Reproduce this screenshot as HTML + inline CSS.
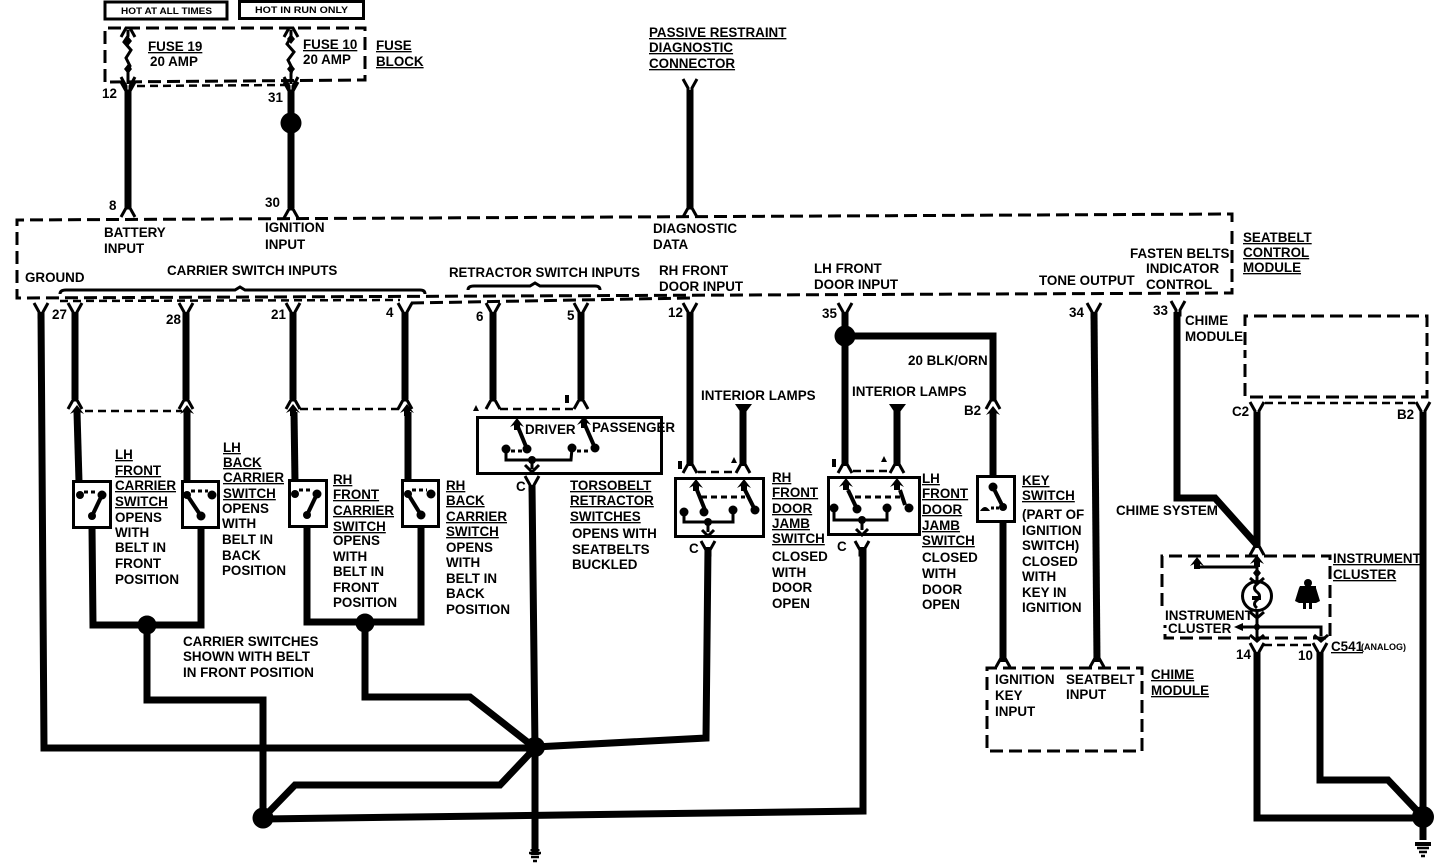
<!DOCTYPE html>
<html><head><meta charset="utf-8"><style>
html,body{margin:0;padding:0;background:#fff}
svg{display:block}
text{font-family:"Liberation Sans",sans-serif;font-weight:bold;font-size:13.4px;fill:#000}
.u{text-decoration:underline}
.s{font-size:9px}
.w{fill:none;stroke:#000;stroke-width:7}
.n{fill:none;stroke:#000;stroke-width:3}
.l{fill:none;stroke:#000;stroke-width:4}
.d{fill:none;stroke:#000;stroke-width:3;stroke-dasharray:13 6}
.e{fill:none;stroke:#000;stroke-width:2.5;stroke-dasharray:8 5}
</style></head><body>
<svg width="1456" height="864" viewBox="0 0 1456 864" xmlns="http://www.w3.org/2000/svg">
<defs>
<path id="y" d="M-7,-8 L-2,1 L-2,6 L2,6 L2,1 L7,-8" fill="none" stroke="#000" stroke-width="3"/>
<path id="a" d="M-7,7 L-2,-2 L2,-2 L7,7" fill="none" stroke="#000" stroke-width="3"/>
<path id="h" d="M-7,4 L0,-5 L7,4 L3,2 L3,7 L-3,7 L-3,2 Z" fill="#000"/>
<g id="g"><path d="M-6,0H6M-4,4H4M-2,8H2" stroke="#000" stroke-width="2.5" fill="none"/></g>
</defs>

<!-- top labels -->
<rect x="105" y="2" width="122" height="17" class="n"/>
<rect x="239.500" y="1.500" width="124" height="17" class="n"/>
<text x="121" y="14" class="s" textLength="91" lengthAdjust="spacingAndGlyphs">HOT AT ALL TIMES</text>
<text x="255" y="13" class="s" textLength="93" lengthAdjust="spacingAndGlyphs">HOT IN RUN ONLY</text>

<!-- fuse block -->
<path class="d" d="M105,82 V28 H365 V80 L105,82"/>
<path class="e" d="M137,86 L285,85"/>
<path d="M128,30 V36 L124,42 L131,50 L126,58 L130,66 L128,72 V84" class="n"/>
<path d="M291,30 V37 L287,44 L294,52 L288,60 L292,68 L291,74 V84" class="n"/>
<path d="M128,36l-4,5 4,5 4,-5zM128,64l-4,5 4,5 4,-5zM291,34l-4,5 4,5 4,-5zM291,64l-4,5 4,5 4,-5z"/>
<use href="#a" x="128" y="30"/><use href="#a" x="291" y="30"/>
<use href="#y" x="128" y="85"/><use href="#y" x="291" y="85"/>
<use href="#y" x="128" y="90"/><use href="#y" x="291" y="90"/>
<path class="w" d="M128,90 V209"/>
<path class="w" d="M291,90 V208"/>
<circle cx="291" cy="123" r="10.500"/>
<text x="148" y="51" class="u">FUSE 19</text><text x="150" y="66">20 AMP</text>
<text x="303" y="49" class="u">FUSE 10</text><text x="303" y="64">20 AMP</text>
<text x="376" y="50" class="u">FUSE</text><text x="376" y="66" class="u">BLOCK</text>
<text x="102" y="98">12</text><text x="268" y="102">31</text>

<text x="649" y="37" class="u">PASSIVE RESTRAINT</text>
<text x="649" y="52" class="u">DIAGNOSTIC</text>
<text x="649" y="68" class="u">CONNECTOR</text>
<use href="#y" x="690" y="87"/>
<path class="w" d="M690,90 V209"/>

<!-- seatbelt module -->
<path class="d" d="M1232,222 L1232,214 L17,220 V298 L1232,293 V230"/>
<use href="#a" x="128" y="210"/><use href="#a" x="291" y="211"/><use href="#a" x="690" y="210"/>
<text x="109" y="210" font-size="12">8</text><text x="265" y="207">30</text>
<text x="104" y="237">BATTERY</text><text x="104" y="253">INPUT</text>
<text x="265" y="232">IGNITION</text><text x="265" y="249">INPUT</text>
<text x="653" y="233">DIAGNOSTIC</text><text x="653" y="249">DATA</text>
<text x="1243" y="242" class="u">SEATBELT</text><text x="1243" y="257" class="u">CONTROL</text><text x="1243" y="272" class="u">MODULE</text>
<text x="1130" y="258">FASTEN BELTS</text><text x="1146" y="273">INDICATOR</text><text x="1146" y="289">CONTROL</text>
<text x="25" y="282" font-size="13">GROUND</text>
<text x="167" y="275">CARRIER SWITCH INPUTS</text>
<text x="449" y="277" textLength="191" lengthAdjust="spacingAndGlyphs">RETRACTOR SWITCH INPUTS</text>
<text x="659" y="275">RH FRONT</text><text x="659" y="291">DOOR INPUT</text>
<text x="814" y="273">LH FRONT</text><text x="814" y="289">DOOR INPUT</text>
<text x="1039" y="285">TONE OUTPUT</text>
<path d="M60,294 Q60,290 66,290 H235 L240,287 L245,290 H420 Q425,290 425,294" class="n"/>
<path d="M468,290 Q468,286 474,286 H530 L535,283 L540,286 H595 Q600,286 600,290" class="n"/>

<!-- pins -->
<g>
<use href="#y" x="41" y="311"/><use href="#y" x="75" y="311"/><use href="#y" x="186" y="311"/><use href="#y" x="293" y="311"/><use href="#y" x="405" y="311"/><use href="#y" x="493" y="311"/><use href="#y" x="581" y="311"/><use href="#y" x="690" y="311"/><use href="#y" x="845" y="311"/><use href="#y" x="1094" y="311"/><use href="#y" x="1178" y="309"/>
</g>
<path d="M60,301 L400,300" class="e"/><path d="M411,303 L690,298" class="d"/>
<text x="52" y="319" font-size="12">27</text><text x="166" y="324" font-size="12">28</text><text x="271" y="319" font-size="12">21</text><text x="386" y="317" font-size="12">4</text><text x="476" y="321" font-size="12">6</text><text x="567" y="320" font-size="12">5</text><text x="668" y="317" font-size="12">12</text><text x="822" y="318" font-size="12">35</text><text x="1069" y="317" font-size="12">34</text><text x="1153" y="315" font-size="12">33</text>

<!-- ground run -->
<path class="w" d="M41,312 L44,748 H535"/>
<!-- carrier wires upper -->
<path class="w" d="M75,312 V399"/><path class="w" d="M186,312 V399"/>
<path class="w" d="M293,312 V399"/><path class="w" d="M405,312 V399"/>
<use href="#a" x="75" y="402"/><use href="#a" x="186" y="402"/><use href="#a" x="293" y="402"/><use href="#a" x="405" y="402"/>
<use href="#h" x="77" y="410"/><use href="#h" x="187" y="410"/><use href="#h" x="293" y="409"/><use href="#h" x="407" y="409"/>
<path class="e" d="M85,411 H182"/><path class="e" d="M300,409 H400"/>
<path class="w" d="M77,412 L79,482"/><path class="w" d="M187,412 V482"/>
<path class="w" d="M294,412 L295,482"/><path class="w" d="M408,412 V482"/>

<!-- switch boxes -->
<rect x="73.500" y="481.500" width="37" height="46" class="n"/>
<rect x="182.500" y="481.500" width="36" height="46" class="n"/>
<rect x="289.500" y="480.500" width="37" height="46" class="n"/>
<rect x="402.500" y="480.500" width="36" height="46" class="n"/>
<g fill="#000">
<circle cx="80" cy="495" r="4"/><circle cx="102" cy="495" r="4.500"/><circle cx="92" cy="516" r="4"/>
<circle cx="187" cy="495" r="4"/><circle cx="212" cy="495" r="4.500"/><circle cx="201" cy="516" r="4.500"/>
<circle cx="295" cy="494" r="4"/><circle cx="317" cy="494" r="4.500"/><circle cx="307" cy="515" r="4"/>
<circle cx="408" cy="494" r="4"/><circle cx="431" cy="494" r="4.500"/><circle cx="421" cy="515" r="4.500"/>
</g>
<path class="l" d="M92,516 L102,495M187,495 L201,516M307,515 L317,494M408,494 L421,515"/>
<path d="M84,492H98M191,491H208M299,490H313M412,490H427" class="n" stroke-dasharray="4 3"/>

<!-- switch commons -->
<path class="w" d="M92,527 L93,625 H201 V527"/>
<path class="w" d="M307,526 V622 H421 V526"/>
<path class="w" d="M147,625 V700 H263 V818"/>
<path class="w" d="M365,623 V697 H470 L535,748"/>
<circle cx="147" cy="625" r="9.500"/><circle cx="365" cy="623" r="9.500"/>
<circle cx="263" cy="818" r="10.500"/>
<path class="w" d="M263,818 L295,785 H500 L535,748"/>
<path class="w" d="M263,819 L863,811 V547"/>

<!-- main splice -->
<path class="w" d="M532,485 L535,748 V848"/>
<circle cx="535" cy="747" r="10"/>
<path d="M535,845 l-5,5 l3,3 l-3,2 h10 l-3,-2 l3,-3 z"/>
<use href="#g" x="535" y="853"/>
<path class="w" d="M708,547 L706,738 L535,747"/>

<!-- retractor -->
<path class="w" d="M493,312 V399"/><path class="w" d="M581,312 V399"/>
<use href="#a" x="493" y="402"/><use href="#a" x="581" y="402"/>
<path class="e" d="M500,409 H578"/>
<rect x="477.500" y="417.500" width="184" height="56" class="n"/>
<use href="#h" x="517" y="423"/><use href="#h" x="584" y="421"/>
<path class="l" d="M518,427 L527,449M585,425 L595,448"/>
<path class="n" d="M506,449 V460 H571 L572,448M532,460 V469"/>
<g fill="#000"><circle cx="506" cy="449" r="4.500"/><circle cx="527" cy="449" r="4.500"/><circle cx="572" cy="448" r="4.500"/><circle cx="595" cy="448" r="4.500"/><circle cx="532" cy="460" r="4"/></g>
<path d="M511,451H523M577,451H590" class="n" stroke-dasharray="4 3"/>
<path d="M525,465 L532,472 L539,465" class="n"/>
<use href="#y" x="532" y="484"/>
<text x="516" y="491" font-size="12">C</text>
<path d="M473,411 l3,-6 l3,6z"/><rect x="565" y="395" width="4" height="8"/>
<text x="525" y="434">DRIVER</text><text x="592" y="432">PASSENGER</text>
<text x="570" y="490" class="u">TORSOBELT</text><text x="570" y="505" class="u">RETRACTOR</text><text x="570" y="521" class="u">SWITCHES</text>
<text x="572" y="538">OPENS WITH</text><text x="572" y="554">SEATBELTS</text><text x="572" y="569">BUCKLED</text>

<!-- RH door -->
<path class="w" d="M690,312 V466"/><path class="w" d="M743,408 V466"/>
<path d="M735,404H752L743,416Z"/>
<use href="#a" x="690" y="466"/><use href="#a" x="743" y="466"/>
<path class="e" d="M698,472 H736"/>
<rect x="675.500" y="478.500" width="88" height="58" class="n"/>
<use href="#h" x="696" y="484"/><use href="#h" x="744" y="484"/>
<path class="l" d="M697,490 L705,510M745,490 L755,510"/>
<path class="n" d="M684,512 V522 H733 V510M708,522 V532"/>
<path d="M701,497H745" class="n" stroke-dasharray="6 4"/>
<g fill="#000"><circle cx="684" cy="512" r="4.500"/><circle cx="704" cy="512" r="4.500"/><circle cx="733" cy="510" r="4.500"/><circle cx="755" cy="510" r="4.500"/><circle cx="708" cy="522" r="4"/></g>
<path d="M702,530 L708,536 L714,530" class="n"/>
<use href="#y" x="708" y="549"/>
<path d="M731,463 l3,-6 l3,6z"/><rect x="678" y="461" width="4" height="8"/>
<text x="689" y="553" font-size="12">C</text>
<text x="701" y="400">INTERIOR LAMPS</text>
<text x="772" y="482" class="u">RH</text><text x="772" y="497" class="u">FRONT</text><text x="772" y="513" class="u">DOOR</text><text x="772" y="528" class="u">JAMB</text><text x="772" y="543" class="u">SWITCH</text>
<text x="772" y="561">CLOSED</text><text x="772" y="577">WITH</text><text x="772" y="592">DOOR</text><text x="772" y="608">OPEN</text>

<!-- LH door -->
<path class="w" d="M845,312 V466"/><path class="w" d="M897,408 V466"/>
<path class="w" d="M845,336 H993 V401"/>
<circle cx="845" cy="336" r="10.500"/>
<path d="M889,404H906L897,416Z"/>
<use href="#a" x="845" y="466"/><use href="#a" x="897" y="466"/>
<path class="e" d="M853,471 H890"/>
<rect x="828.500" y="477.500" width="91" height="57" class="n"/>
<use href="#h" x="846" y="483"/><use href="#h" x="897" y="483"/>
<path class="l" d="M848,490 L857,509M900,490 L905,505"/>
<path class="n" d="M834,508 V520 H887 V508M862,520 V530"/>
<path d="M855,497H900" class="n" stroke-dasharray="6 4"/>
<g fill="#000"><circle cx="834" cy="508" r="4.500"/><circle cx="857" cy="509" r="4.500"/><circle cx="887" cy="508" r="4.500"/><circle cx="909" cy="508" r="4.500"/><circle cx="862" cy="520" r="4"/></g>
<path d="M856,529 L862,535 L868,529" class="n"/>
<use href="#y" x="862" y="549"/>
<path d="M881,462 l3,-6 l3,6z"/><rect x="832" y="459" width="4" height="8"/>
<text x="837" y="551" font-size="12">C</text>
<text x="852" y="396">INTERIOR LAMPS</text>
<text x="908" y="365">20 BLK/ORN</text>
<text x="922" y="483" class="u">LH</text><text x="922" y="498" class="u">FRONT</text><text x="922" y="514" class="u">DOOR</text><text x="922" y="530" class="u">JAMB</text><text x="922" y="545" class="u">SWITCH</text>
<text x="922" y="562">CLOSED</text><text x="922" y="578">WITH</text><text x="922" y="594">DOOR</text><text x="922" y="609">OPEN</text>

<!-- key switch -->
<use href="#a" x="993" y="402"/><use href="#h" x="993" y="411"/>
<path class="w" d="M993,413 V477"/>
<rect x="977.500" y="476.500" width="37" height="45" class="n"/>
<path class="l" d="M993,487 L1003,507"/>
<g fill="#000"><circle cx="993" cy="487" r="4.500"/><circle cx="1003" cy="507" r="4"/><path d="M980,511 q5,-8 10,0z"/></g>
<path d="M991,508h8" class="n" stroke-dasharray="3 2"/>
<path class="w" d="M1003,522 V662"/>
<text x="964" y="415">B2</text>
<text x="1022" y="485" class="u">KEY</text><text x="1022" y="500" class="u">SWITCH</text>
<text x="1022" y="519">(PART OF</text><text x="1022" y="535">IGNITION</text><text x="1022" y="550">SWITCH)</text><text x="1022" y="566">CLOSED</text><text x="1022" y="581">WITH</text><text x="1022" y="597">KEY IN</text><text x="1022" y="612">IGNITION</text>

<!-- tone -->
<path class="w" d="M1094,312 L1097,662"/>
<use href="#a" x="1003" y="660"/><use href="#a" x="1097" y="660"/>
<path class="d" d="M987,690 V668 H1142 V751 H987 V700"/>
<text x="995" y="684">IGNITION</text><text x="995" y="700">KEY</text><text x="995" y="716">INPUT</text>
<text x="1066" y="684">SEATBELT</text><text x="1066" y="699">INPUT</text>
<text x="1151" y="679" class="u">CHIME</text><text x="1151" y="695" class="u">MODULE</text>

<!-- chime module right -->
<path class="w" d="M1177,312 V498 H1215 L1257,545"/>
<text x="1185" y="325">CHIME</text><text x="1185" y="341">MODULE</text>
<text x="1116" y="515">CHIME SYSTEM</text>
<path class="d" d="M1245,345 V316 H1427 V397 H1245 V350"/>
<use href="#y" x="1257" y="410"/><use href="#y" x="1423" y="410"/>
<path class="e" d="M1265,403 H1415"/>
<path class="w" d="M1257,412 V548"/><path class="w" d="M1423,412 V818"/>
<text x="1232" y="416">C2</text><text x="1397" y="419">B2</text>

<!-- cluster -->
<path class="d" d="M1162,606 V556 H1330 V638 H1165 V625"/>
<use href="#a" x="1257" y="548"/>
<use href="#h" x="1257" y="560"/>
<use href="#h" x="1197" y="562"/>
<path class="n" d="M1197,562 V567 H1257 M1257,560 V640"/>
<path d="M1257,568 l-4,5 4,5 4,-5z"/>
<circle cx="1257" cy="596" r="14.500" fill="#fff" stroke="#000" stroke-width="3"/>
<path class="n" d="M1250,578 L1257,584 L1264,578M1257,584 q-5,4 0,8 q5,4 0,8 q-5,4 0,8"/>
<path d="M1252,596 h9 v4 h-9z"/>
<path class="n" d="M1250,612 L1257,618 L1264,612"/>
<path d="M1253,627 l4,-5 4,5 -4,5z"/>
<path class="n" d="M1238,627 H1321 V636"/>
<path d="M1243,623 L1234,627 L1243,631Z"/>
<path class="n" d="M1250,635 L1257,641 L1264,635M1314,635 L1321,641 L1328,635"/>
<g fill="#000"><circle cx="1308" cy="583" r="4"/><path d="M1300,586 h16 v2 l4,13 l-4,2 h-4 v6 h-3 v-6 h-3 v6 h-3 v-6 h-4 l-4,-2 l4,-13z"/></g>
<text x="1333" y="563" class="u">INSTRUMENT</text><text x="1333" y="579" class="u">CLUSTER</text>
<text x="1165" y="620">INSTRUMENT</text><text x="1168" y="633">CLUSTER</text>
<text x="1331" y="651" class="u" font-size="12">C541</text><text x="1361" y="650" class="s">(ANALOG)</text>
<text x="1236" y="659">14</text><text x="1298" y="660">10</text>
<use href="#y" x="1257" y="651"/><use href="#y" x="1320" y="651"/>
<path class="e" d="M1264,645 H1313"/>
<path class="w" d="M1257,652 V818 H1423"/>
<path class="w" d="M1320,652 V780 H1388 L1423,817"/>
<circle cx="1423" cy="817" r="11"/>
<path class="w" d="M1423,820 V840"/>
<path d="M1415,842 h16 v4 h-16z"/><use href="#g" x="1423" y="848"/>

<!-- text carrier -->
<text x="115" y="459" class="u">LH</text><text x="115" y="475" class="u">FRONT</text><text x="115" y="490" class="u">CARRIER</text><text x="115" y="506" class="u">SWITCH</text>
<text x="115" y="522">OPENS</text><text x="115" y="537">WITH</text><text x="115" y="552">BELT IN</text><text x="115" y="568">FRONT</text><text x="115" y="584">POSITION</text>
<text x="223" y="452" class="u">LH</text><text x="223" y="467" class="u">BACK</text><text x="223" y="482" class="u">CARRIER</text><text x="223" y="498" class="u">SWITCH</text>
<text x="222" y="513">OPENS</text><text x="222" y="528">WITH</text><text x="222" y="544">BELT IN</text><text x="222" y="560">BACK</text><text x="222" y="575">POSITION</text>
<text x="333" y="484" class="u">RH</text><text x="333" y="499" class="u">FRONT</text><text x="333" y="515" class="u">CARRIER</text><text x="333" y="531" class="u">SWITCH</text>
<text x="333" y="545">OPENS</text><text x="333" y="561">WITH</text><text x="333" y="576">BELT IN</text><text x="333" y="592">FRONT</text><text x="333" y="607">POSITION</text>
<text x="446" y="490" class="u">RH</text><text x="446" y="505" class="u">BACK</text><text x="446" y="521" class="u">CARRIER</text><text x="446" y="536" class="u">SWITCH</text>
<text x="446" y="552">OPENS</text><text x="446" y="567">WITH</text><text x="446" y="583">BELT IN</text><text x="446" y="598">BACK</text><text x="446" y="614">POSITION</text>
<text x="183" y="646">CARRIER SWITCHES</text><text x="183" y="661">SHOWN WITH BELT</text><text x="183" y="677">IN FRONT POSITION</text>
</svg>
</body></html>
